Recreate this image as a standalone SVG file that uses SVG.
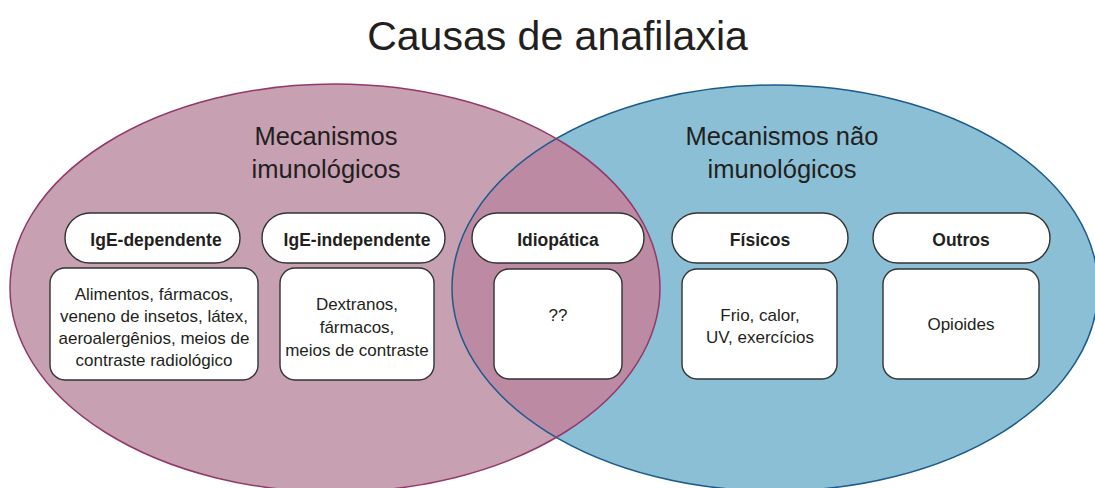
<svg xmlns="http://www.w3.org/2000/svg" width="1095" height="488" viewBox="0 0 1095 488">
<style>
.t{font-family:"Liberation Sans",Arial,sans-serif;fill:#231F20;text-anchor:middle}
.title{font-size:41px}
.grp{font-size:25.5px}
.hdr{font-size:17.5px;font-weight:bold}
.body{font-size:17px}
.pill{fill:#fff;stroke:#333;stroke-width:1.4}
.box{fill:#fff;stroke:#333;stroke-width:1.4}
</style>
<defs>
<clipPath id="clipL"><ellipse cx="335" cy="288" rx="325" ry="204"/></clipPath>
</defs>
<rect width="1095" height="488" fill="#fff"/>
<g id="sets">
<ellipse id="setL" cx="335" cy="288" rx="325" ry="204" fill="#C7A0B2"/>
<ellipse id="setR" cx="775" cy="288" rx="323" ry="203" fill="#8BBFD5"/>
<ellipse cx="775" cy="288" rx="323" ry="203" fill="#BD8AA3" clip-path="url(#clipL)"/>
<ellipse cx="775" cy="288" rx="323" ry="203" fill="none" stroke="#1C5A8C" stroke-width="1.5"/>
<ellipse cx="335" cy="288" rx="325" ry="204" fill="none" stroke="#93386A" stroke-width="1.5"/>
</g>
<text class="t title" x="557.5" y="50">Causas de anafilaxia</text>
<g id="label-imuno">
<text class="t grp" x="326" y="145">Mecanismos</text>
<text class="t grp" x="326" y="178">imunológicos</text>
</g>
<g id="label-nao-imuno">
<text class="t grp" x="782" y="145">Mecanismos não</text>
<text class="t grp" x="782" y="178">imunológicos</text>
</g>
<g id="ige-dependente">
<rect class="pill" x="65" y="213" width="175" height="50" rx="25"/>
<text class="t hdr" x="156" y="246">IgE-dependente</text>
<rect class="box" x="50" y="268" width="208" height="112" rx="15"/>
<text class="t body" x="154" y="300">Alimentos, fármacos,</text>
<text class="t body" x="154" y="322">veneno de insetos, látex,</text>
<text class="t body" x="154" y="344">aeroalergênios, meios de</text>
<text class="t body" x="154" y="366">contraste radiológico</text>
</g>
<g id="ige-independente">
<rect class="pill" x="262" y="213" width="183" height="50" rx="25"/>
<text class="t hdr" x="357" y="246">IgE-independente</text>
<rect class="box" x="280" y="268" width="154" height="112" rx="15"/>
<text class="t body" x="357" y="310">Dextranos,</text>
<text class="t body" x="357" y="333">fármacos,</text>
<text class="t body" x="357" y="356">meios de contraste</text>
</g>
<g id="idiopatica">
<rect class="pill" x="472" y="213" width="172" height="50" rx="25"/>
<text class="t hdr" x="558" y="246">Idiopática</text>
<rect class="box" x="494" y="269" width="128" height="110" rx="15"/>
<text class="t body" x="558" y="321">??</text>
</g>
<g id="fisicos">
<rect class="pill" x="672" y="213" width="176" height="50" rx="25"/>
<text class="t hdr" x="760" y="246">Físicos</text>
<rect class="box" x="682" y="269" width="155" height="110" rx="15"/>
<text class="t body" x="760" y="321">Frio, calor,</text>
<text class="t body" x="760" y="343">UV, exercícios</text>
</g>
<g id="outros">
<rect class="pill" x="873" y="213" width="177" height="50" rx="25"/>
<text class="t hdr" x="961" y="246">Outros</text>
<rect class="box" x="883" y="269" width="156" height="110" rx="15"/>
<text class="t body" x="961" y="330">Opioides</text>
</g>
</svg>
